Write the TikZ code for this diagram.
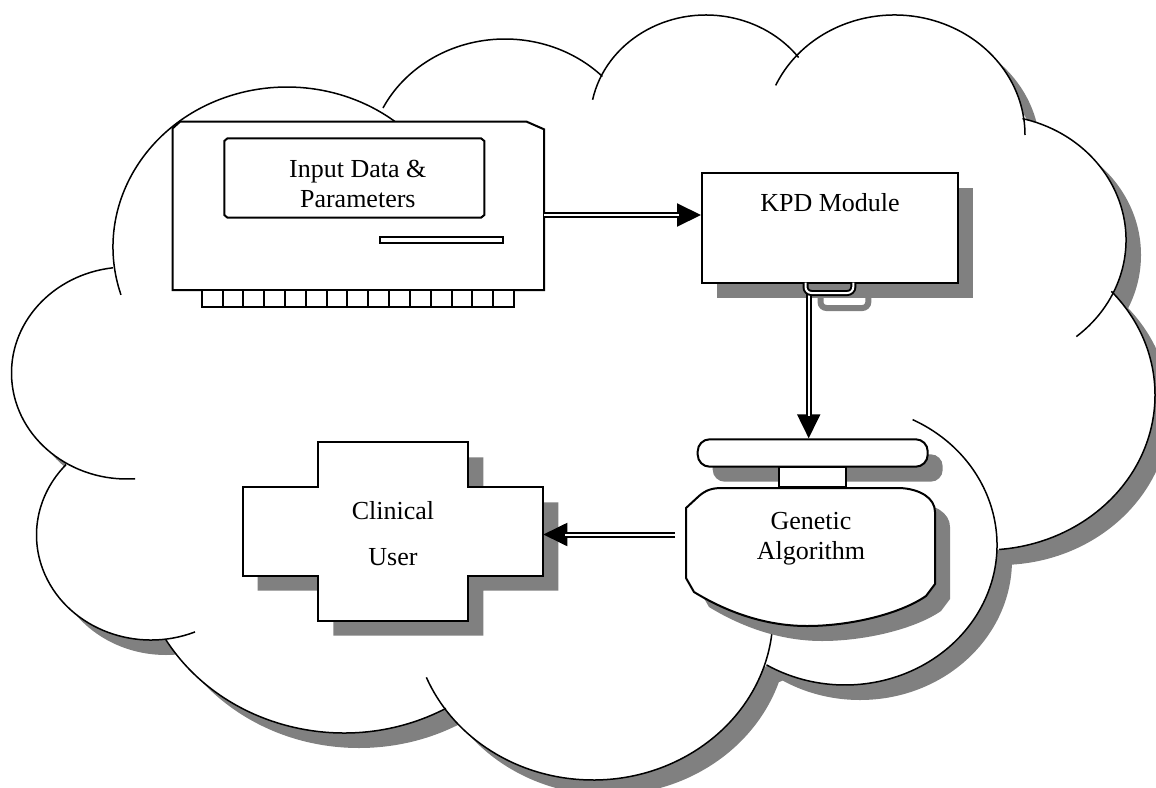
\documentclass[tikz,border=0pt]{standalone}
\usepackage{fontspec}
\setmainfont{Liberation Serif}
\usetikzlibrary{arrows.meta,shadows}
\definecolor{shadowgray}{RGB}{128,128,128}

% Cloud body: union of the lobe ellipses and the inner polygon through the lobe joints
\newcommand\cloudfill[1]{%
  \fill[#1] (287,247) ellipse [x radius=174, y radius=160];
  \fill[#1] (505,164.3) ellipse [x radius=136.6, y radius=125.3];
  \fill[#1] (706,121.3) ellipse [x radius=115.8, y radius=106.3];
  \fill[#1] (894.5,135) ellipse [x radius=130.5, y radius=120];
  \fill[#1] (990,240) ellipse [x radius=136, y radius=125];
  \fill[#1] (985,395) ellipse [x radius=170, y radius=155];
  \fill[#1] (845,545) ellipse [x radius=152, y radius=140];
  \fill[#1] (593,615) ellipse [x radius=180, y radius=165];
  \fill[#1] (344,543) ellipse [x radius=207, y radius=190];
  \fill[#1] (151,535) ellipse [x radius=114.5, y radius=105];
  \fill[#1] (127,373) ellipse [x radius=115.5, y radius=106];
  \fill[#1] (113.3,270) -- (381,107) -- (604,75) -- (797.5,58.3) -- (1023.3,113.3)
    -- (1115,288.3) -- (999,546.7) -- (765.2,666.7) -- (445.8,708.3) -- (164.6,640)
    -- (66.7,465) -- cycle;
}
% One lobe outline: centre x, centre y, x radius, y radius, start angle, end angle
\newcommand\cloudlobe[6]{%
  \draw[cloudline] (#1,#2) ++(#5:#3 and #4)
    arc[start angle=#5, end angle=#6, x radius=#3, y radius=#4];}

\begin{document}
\begin{tikzpicture}[x=0.5pt, y=-0.5pt,
  cloudline/.style={line width=0.75pt, line join=round},
  shapeline/.style={draw=black, line width=1pt, fill=white},
  dropsh/.style={drop shadow={shadow xshift=7.5pt, shadow yshift=-7.5pt,
      fill=shadowgray, opacity=1}},
  lbl/.style={font=\fontsize{13}{15}\selectfont, align=center, inner sep=0pt},
  dbl/.style={draw=black, double=white, line width=1pt, double distance=1pt},
  tipline/.style={draw=black, line width=1pt, -{Triangle[length=12pt, width=11.5pt]}}]

\useasboundingbox (0,0) rectangle (1156,787);

% ---------- cloud ----------
\begin{scope}[shift={(15,15)}]
  \cloudfill{shadowgray}
\end{scope}
\cloudfill{white}
\cloudlobe{287}{247}{174}{160}{162.6}{315}
\cloudlobe{505}{164.3}{136.6}{125.3}{206.7}{315.5}
\cloudlobe{706}{121.3}{115.8}{106.3}{191.7}{323.1}
\cloudlobe{894.5}{135}{130.5}{120}{204.4}{360}
\cloudlobe{990}{240}{136}{125}{283.8}{410.6}
\cloudlobe{985}{395}{170}{155}{318}{445.2}
\cloudlobe{845}{545}{152}{140}{296.4}{481.1}
\cloudlobe{593}{615}{180}{165}{5.2}{157.8}
\cloudlobe{344}{543}{207}{190}{60.5}{149.5}
\cloudlobe{151}{535}{114.5}{105}{67.4}{222.2}
\cloudlobe{127}{373}{115.5}{106}{86}{263}

% ---------- input device ----------
\draw[shapeline] (172.7,290) -- (172.7,128.3) -- (180,121.7) -- (526.7,121.7)
  -- (544,129.3) -- (544,290) -- cycle;
\draw[line width=1pt] (224.3,141) -- (227.5,138.3) -- (481,138.3) -- (484.3,141)
  -- (484.3,215) -- (481,217.7) -- (227.5,217.7) -- (224.3,215) -- cycle;
\node[lbl] (input) at (357.8,184) {Input Data \&\\Parameters};
\draw[line width=1pt] (380,236.7) rectangle (503.3,243.3);
\foreach \i in {0,...,14}
  \draw[shapeline] ({201.7+\i*20.82},290) rectangle ({201.7+(\i+1)*20.82},307.3);
\coordinate (devout) at (544,215);

% ---------- KPD module ----------
\node[shapeline, dropsh, minimum width=128pt, minimum height=55pt, inner sep=0pt]
  (kpd) at (830,228) {};
\node[lbl, anchor=base] (kpdlbl) at (830,211.7) {KPD Module};
\draw[shadowgray, line width=3pt, rounded corners=3pt]
  (820.5,297) -- (820.5,308) -- (868.3,308) -- (868.3,297);
\coordinate (plugout) at (808.7,292);

% ---------- genetic algorithm ----------
\node[shapeline, dropsh, rounded corners=6pt, minimum width=115pt,
  minimum height=13.7pt, inner sep=0pt] (gabar) at (812.7,453) {};
\draw[shapeline] (779,466.7) rectangle (845.7,487.3);
\draw[shapeline, dropsh] (686,508) -- (699,496) .. controls (706,490) and (712,488) .. (722,488)
  -- (900,488) .. controls (920,489) and (935,498) .. (935,512) -- (935,584)
  -- (926,596) .. controls (900,614) and (850,626) .. (807,626)
  .. controls (760,626) and (720,608) .. (694,592) -- (686,578) -- cycle;
\node[lbl] (ga) at (811,539) {Genetic\\Algorithm};
\coordinate (gaout) at (675,534.5);

% ---------- clinical user ----------
\draw[shapeline, dropsh] (318.3,442.3) -- (468.3,442.3) -- (468.3,487.3) -- (543.3,487.3)
  -- (543.3,575.7) -- (468.3,575.7) -- (468.3,620.7) -- (318.3,620.7) -- (318.3,575.7)
  -- (242.7,575.7) -- (242.7,487.3) -- (318.3,487.3) -- cycle;
\node[lbl, font=\fontsize{13}{22.8}\selectfont] (user) at (393,533.5) {Clinical\\User};
\coordinate (userin) at (543.3,534.5);

% ---------- connectors ----------
\draw[tipline] (devout) -- (kpd.west |- devout);
\draw[dbl, shorten >=11pt] (devout) -- (kpd.west |- devout);
\draw[tipline] (plugout) -- (plugout |- gabar.north);
\draw[dbl, shorten >=11pt] (plugout) -- (plugout |- gabar.north);
\draw[tipline] (gaout) -- (userin);
\draw[dbl, shorten >=11pt] (gaout) -- (userin);
\draw[dbl, rounded corners=3pt]
  (805.5,282.5) -- (805.5,293) -- (853.3,293) -- (853.3,282.5);
\end{tikzpicture}
\end{document}
